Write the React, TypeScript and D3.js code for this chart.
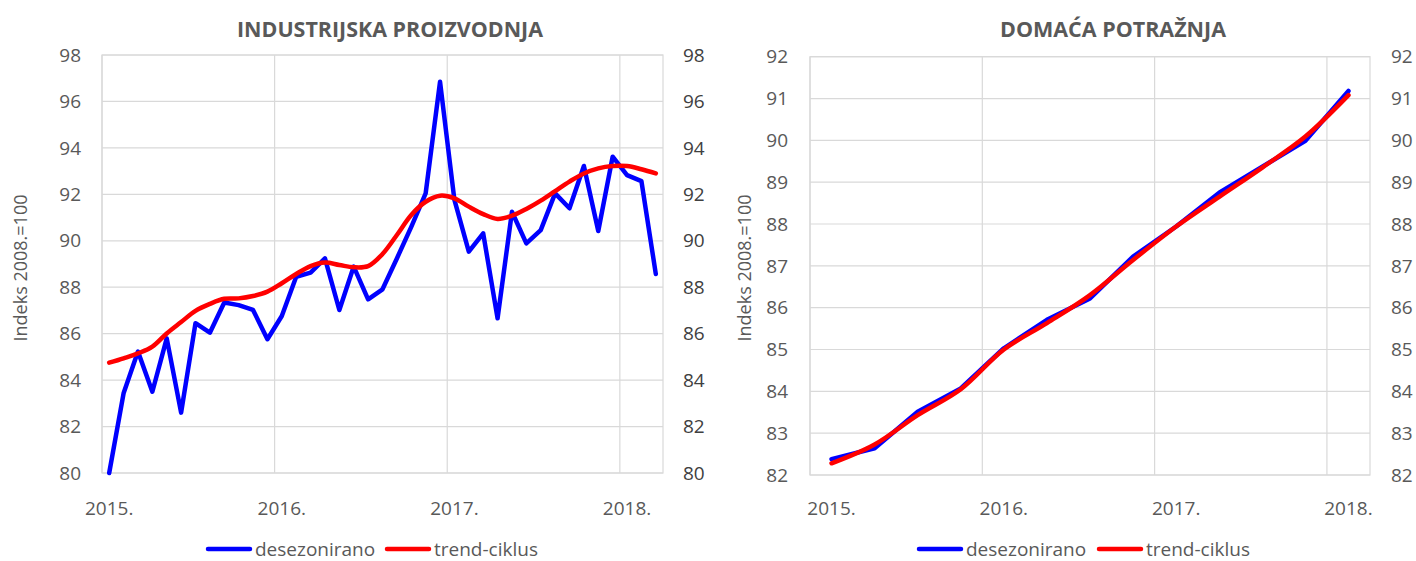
import React from "react";
import * as d3 from "d3";

// ---------- DATA ----------
const monthCats: string[] = d3
  .timeMonths(new Date(2015, 0, 1), new Date(2018, 3, 1))
  .map((d) => d3.timeFormat("%Y-%m")(d));
const quarterCats: string[] = [
  "2015Q1", "2015Q2", "2015Q3", "2015Q4",
  "2016Q1", "2016Q2", "2016Q3", "2016Q4",
  "2017Q1", "2017Q2", "2017Q3", "2017Q4",
  "2018Q1",
];

const ipDesez: number[] = [
  80.0, 83.43, 85.23, 83.5, 85.8, 82.6, 86.45, 86.04, 87.34, 87.23, 87.02, 85.76,
  86.76, 88.45, 88.63, 89.24, 87.02, 88.89, 87.48, 87.91, 89.24, 90.6, 92.04, 96.85,
  91.76, 89.53, 90.32, 86.66, 91.25, 89.89, 90.46, 92.04, 91.4, 93.22, 90.42, 93.62,
  92.83, 92.57, 88.57,
];
const ipTrend: number[] = [
  84.75, 84.94, 85.15, 85.44, 86.01, 86.5, 86.98, 87.28, 87.5, 87.52, 87.62, 87.81,
  88.17, 88.57, 88.91, 89.06, 88.96, 88.86, 88.91, 89.43, 90.25, 91.11, 91.68, 91.94,
  91.83, 91.47, 91.15, 90.94, 91.08, 91.37, 91.73, 92.14, 92.55, 92.9, 93.12, 93.22,
  93.22, 93.08, 92.9,
];
const ddDesez: number[] = [
  82.38, 82.64, 83.51, 84.07, 85.03, 85.71, 86.22, 87.22, 87.94, 88.75, 89.37, 89.99, 91.18,
];
const ddTrend: number[] = [
  82.28, 82.73, 83.43, 84.05, 85.0, 85.63, 86.3, 87.14, 87.94, 88.65, 89.35, 90.09, 91.08,
];

const yearLabels: string[] = ["2015.", "2016.", "2017.", "2018."];
const ipTicks: number[] = [80, 82, 84, 86, 88, 90, 92, 94, 96, 98];
const ddTicks: number[] = [82, 83, 84, 85, 86, 87, 88, 89, 90, 91, 92];
const legendLabels: string[] = ["desezonirano", "trend-ciklus"];
const seriesColors: string[] = ["#0000ff", "#ff0000"];
const yTitle = "Indeks 2008.=100";

const FONT = "'Open Sans', 'Noto Sans', sans-serif";
const GRAY = "#595959";
const GRID = "#d9d9d9";

type PanelProps = {
  title: string;
  titleX: number;
  titleLen: number;
  cats: string[];
  perYear: number;
  blue: number[];
  red: number[];
  ticks: number[];
  left: number;
  right: number;
  top: number;
  bottom: number;
  yTitleX: number;
  leftLabelX: number;
  rightLabelX: number;
  rightLabelColor: string;
  legendX: number[];
};

function Panel(p: PanelProps) {
  const x = d3.scaleBand<string>().domain(p.cats).range([p.left, p.right]).paddingInner(0).paddingOuter(0);
  const bw = x.bandwidth();
  const y = d3
    .scaleLinear()
    .domain([p.ticks[0], p.ticks[p.ticks.length - 1]])
    .range([p.bottom, p.top]);
  const cx = (c: string) => (x(c) as number) + bw / 2;
  const blueLine = d3
    .line<number>()
    .x((_, i) => cx(p.cats[i]))
    .y((v) => y(v))
    .curve(d3.curveLinear);
  const redLine = d3
    .line<number>()
    .x((_, i) => cx(p.cats[i]))
    .y((v) => y(v))
    .curve(d3.curveCatmullRom.alpha(0.5));
  const yearIdx = yearLabels.map((_, k) => k * p.perYear);
  return (
    <g>
      <text
        x={p.titleX}
        y={37}
        textAnchor="middle"
        fontFamily={FONT}
        fontWeight="bold"
        fontSize={22}
        fill={GRAY}
        textLength={p.titleLen}
        lengthAdjust="spacingAndGlyphs"
      >
        {p.title}
      </text>
      {/* horizontal gridlines */}
      {p.ticks.map((t) => (
        <line key={"h" + t} x1={p.left} x2={p.right} y1={y(t)} y2={y(t)} stroke={GRID} strokeWidth={1.2} />
      ))}
      {/* vertical gridlines at year boundaries */}
      {yearIdx.map((i) => (
        <line
          key={"v" + i}
          x1={x(p.cats[i]) as number}
          x2={x(p.cats[i]) as number}
          y1={p.top}
          y2={p.bottom}
          stroke={GRID}
          strokeWidth={1.2}
        />
      ))}
      <rect x={p.left} y={p.top} width={p.right - p.left} height={p.bottom - p.top} fill="none" stroke={GRID} strokeWidth={1.2} />
      {/* y tick labels */}
      {p.ticks.map((t) => (
        <text key={"l" + t} x={p.leftLabelX} y={y(t)} dy="0.35em" textAnchor="end" fontFamily={FONT} fontSize={19} fill={GRAY}>
          {t}
        </text>
      ))}
      {p.ticks.map((t) => (
        <text key={"r" + t} x={p.rightLabelX} y={y(t)} dy="0.35em" textAnchor="start" fontFamily={FONT} fontSize={19} fill={p.rightLabelColor}>
          {t}
        </text>
      ))}
      {/* x labels */}
      {yearIdx.map((i, k) => (
        <text key={"x" + i} x={cx(p.cats[i])} y={515} textAnchor="middle" fontFamily={FONT} fontSize={19} fill={GRAY}>
          {yearLabels[k]}
        </text>
      ))}
      {/* y title */}
      <text
        transform={`translate(${p.yTitleX},${268}) rotate(-90)`}
        textAnchor="middle"
        dy="0.35em"
        fontFamily={FONT}
        fontSize={18}
        fill={GRAY}
      >
        {yTitle}
      </text>
      {/* series */}
      <path d={blueLine(p.blue) || ""} fill="none" stroke={seriesColors[0]} strokeWidth={4.5} strokeLinejoin="round" strokeLinecap="round" />
      <path d={redLine(p.red) || ""} fill="none" stroke={seriesColors[1]} strokeWidth={4.5} strokeLinejoin="round" strokeLinecap="round" />
      {/* legend */}
      {legendLabels.map((lab, k) => (
        <g key={lab}>
          <line x1={p.legendX[k]} x2={p.legendX[k] + 42} y1={549} y2={549} stroke={seriesColors[k]} strokeWidth={4.5} strokeLinecap="round" />
          <text x={p.legendX[k] + 47} y={549} dy="0.35em" fontFamily={FONT} fontSize={19} fill={GRAY}>
            {lab}
          </text>
        </g>
      ))}
    </g>
  );
}

export default function App() {
  return (
    <svg width={1416} height={561} style={{ position: "absolute", left: 0, top: 0, background: "#fff" }}>
      <rect x={0} y={0} width={1416} height={561} fill="#fff" />
      <Panel
        title="INDUSTRIJSKA PROIZVODNJA"
        titleX={390}
        titleLen={306}
        cats={monthCats}
        perYear={12}
        blue={ipDesez}
        red={ipTrend}
        ticks={ipTicks}
        left={102}
        right={663}
        top={55}
        bottom={473}
        yTitleX={21}
        leftLabelX={81}
        rightLabelX={683}
        rightLabelColor="#404040"
        legendX={[208, 387]}
      />
      <Panel
        title="DOMAĆA POTRAŽNJA"
        titleX={1113}
        titleLen={226}
        cats={quarterCats}
        perYear={4}
        blue={ddDesez}
        red={ddTrend}
        ticks={ddTicks}
        left={810}
        right={1370}
        top={56.7}
        bottom={475}
        yTitleX={745}
        leftLabelX={788}
        rightLabelX={1391}
        rightLabelColor={GRAY}
        legendX={[919, 1099]}
      />
    </svg>
  );
}
